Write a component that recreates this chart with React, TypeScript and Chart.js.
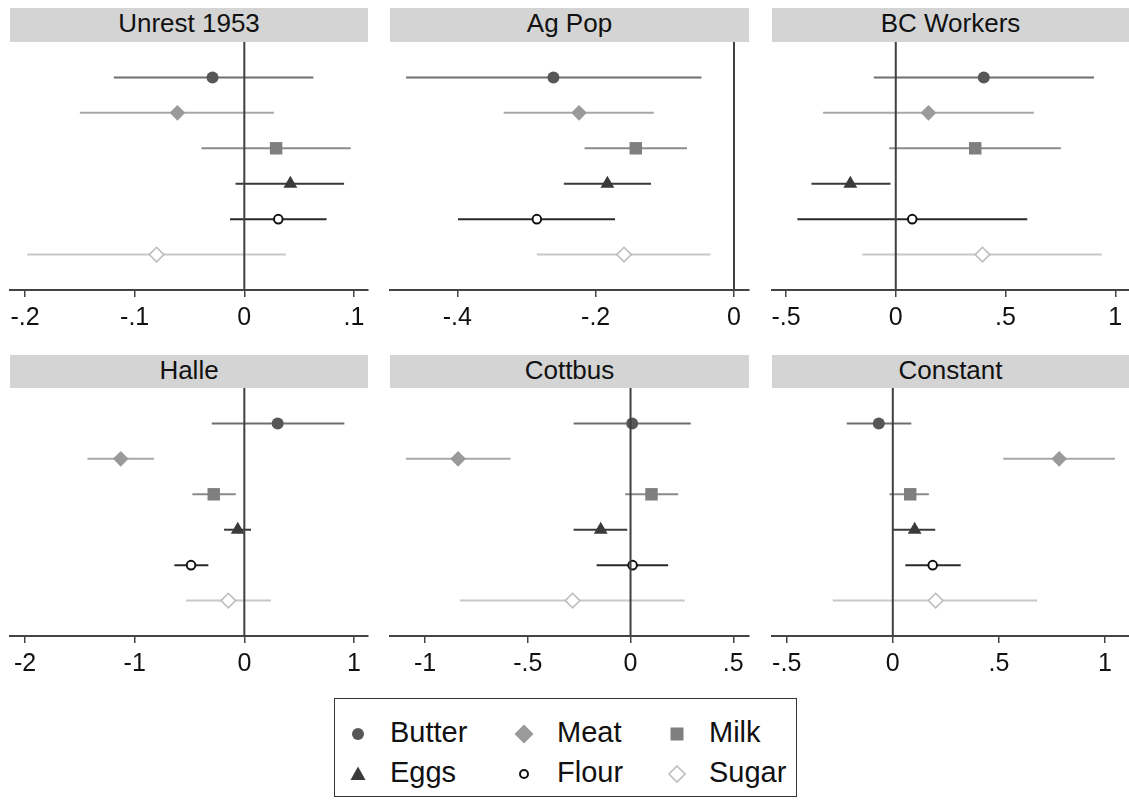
import React, { useEffect, useRef } from "react";
import { Chart, registerables } from "chart.js";

Chart.register(...registerables);

// ---------- data ----------
const foods = ["Butter", "Meat", "Milk", "Eggs", "Flour", "Sugar"];
const rowPos = [1, 2, 3, 4, 5, 6];

const unrestEst = [-0.029, -0.061, 0.029, 0.042, 0.031, -0.080];
const unrestLo = [-0.119, -0.150, -0.039, -0.008, -0.013, -0.198];
const unrestHi = [0.063, 0.027, 0.097, 0.091, 0.075, 0.038];

const agPopEst = [-0.261, -0.224, -0.142, -0.183, -0.285, -0.159];
const agPopLo = [-0.474, -0.333, -0.216, -0.246, -0.399, -0.285];
const agPopHi = [-0.047, -0.116, -0.068, -0.120, -0.172, -0.034];

const bcEst = [0.401, 0.149, 0.362, -0.207, 0.075, 0.395];
const bcLo = [-0.100, -0.331, -0.030, -0.384, -0.448, -0.152];
const bcHi = [0.903, 0.629, 0.752, -0.024, 0.599, 0.939];

const halleEst = [0.304, -1.127, -0.279, -0.060, -0.486, -0.146];
const halleLo = [-0.297, -1.431, -0.474, -0.185, -0.638, -0.531];
const halleHi = [0.912, -0.823, -0.078, 0.061, -0.328, 0.243];

const cottbusEst = [0.008, -0.839, 0.102, -0.145, 0.010, -0.282];
const cottbusLo = [-0.277, -1.093, -0.026, -0.277, -0.165, -0.830];
const cottbusHi = [0.293, -0.584, 0.232, -0.016, 0.183, 0.264];

const constantEst = [-0.066, 0.784, 0.082, 0.103, 0.188, 0.202];
const constantLo = [-0.217, 0.520, -0.016, 0.000, 0.059, -0.283];
const constantHi = [0.087, 1.047, 0.170, 0.200, 0.320, 0.680];

const unrestTicks = [-0.2, -0.1, 0, 0.1];
const agPopTicks = [-0.4, -0.2, 0];
const bcTicks = [-0.5, 0, 0.5, 1];
const halleTicks = [-2, -1, 0, 1];
const cottbusTicks = [-1, -0.5, 0, 0.5];
const constantTicks = [-0.5, 0, 0.5, 1];

const unrestRange = [-0.2137, 0.1128];
const agPopRange = [-0.4973, 0.0217];
const bcRange = [-0.5638, 1.0624];
const halleRange = [-2.1368, 1.1277];
const cottbusRange = [-1.1703, 0.5764];
const constantRange = [-0.5693, 1.1131];

// ---------- styles ----------
const FONT = '"Liberation Sans", Arial, Helvetica, sans-serif';
const markerStyles = [
  { shape: "circle", r: 6, fill: "#575757", stroke: "#575757", bw: 0, line: "#6e6e6e" },
  { shape: "rectRot", r: 7.8, fill: "#9a9a9a", stroke: "#9a9a9a", bw: 0, line: "#a8a8a8" },
  { shape: "rect", r: 8.8, fill: "#7f7f7f", stroke: "#7f7f7f", bw: 0, line: "#8a8a8a" },
  { shape: "triangle", r: 8, fill: "#3a3a3a", stroke: "#3a3a3a", bw: 0, line: "#3a3a3a" },
  { shape: "circle", r: 4.3, fill: "#ffffff", stroke: "#111111", bw: 2, line: "#2a2a2a" },
  { shape: "rectRot", r: 7.3, fill: "#ffffff", stroke: "#bdbdbd", bw: 1.6, line: "#c8c8c8" },
];

const fmt = (v: number) => {
  if (v === 0) return "0";
  return String(v).replace(/^(-?)0\./, "$1.");
};

const PAD = 22;
const AXIS_H = 50;
const PLOT_H = 248;

type PanelProps = {
  title: string;
  est: number[];
  lo: number[];
  hi: number[];
  ticks: number[];
  range: number[];
  left: number;
  width: number;
  headerTop: number;
  plotTop: number;
};

function Panel(p: PanelProps) {
  const ref = useRef<HTMLCanvasElement>(null);
  useEffect(() => {
    if (!ref.current) return;
    const ciSets = foods.map((f, i) => ({
      type: "line" as const,
      label: f + " CI",
      data: [
        { x: p.lo[i], y: rowPos[i] },
        { x: p.hi[i], y: rowPos[i] },
      ],
      showLine: true,
      borderColor: markerStyles[i].line,
      borderWidth: 2,
      pointRadius: 0,
      fill: false,
      order: 2,
    }));
    const zeroLine = {
      type: "line" as const,
      label: "zero",
      data: [
        { x: 0, y: 0 },
        { x: 0, y: 7 },
      ],
      showLine: true,
      borderColor: "#404040",
      borderWidth: 2,
      pointRadius: 0,
      fill: false,
      order: 0,
    };
    const markers = {
      type: "scatter" as const,
      label: "estimates",
      data: p.est.map((v, i) => ({ x: v, y: rowPos[i] })),
      pointStyle: markerStyles.map((s) => s.shape),
      pointRadius: markerStyles.map((s) => s.r),
      backgroundColor: markerStyles.map((s) => s.fill),
      borderColor: markerStyles.map((s) => s.stroke),
      borderWidth: markerStyles.map((s) => s.bw),
      order: 1,
    };
    const chart = new Chart(ref.current, {
      type: "scatter",
      data: { datasets: [...ciSets, zeroLine, markers] as any },
      options: {
        animation: false,
        responsive: false,
        layout: { autoPadding: false, padding: { left: PAD, right: PAD, top: 0, bottom: 0 } },
        plugins: { legend: { display: false }, tooltip: { enabled: false } },
        scales: {
          x: {
            type: "linear",
            min: p.range[0],
            max: p.range[1],
            afterBuildTicks: (s: any) => {
              s.ticks = p.ticks.map((v) => ({ value: v }));
            },
            afterFit: (s: any) => {
              s.height = AXIS_H;
            },
            ticks: {
              font: { family: FONT, size: 25 },
              color: "#111",
              padding: 6,
              maxRotation: 0,
              autoSkip: false,
              callback: (v: any) => fmt(Number(v)),
            },
            grid: {
              drawOnChartArea: false,
              drawTicks: true,
              tickLength: 7,
              color: "#444",
              lineWidth: 1.5,
            },
            border: { display: true, color: "#444", width: 2 },
          },
          y: { type: "linear", display: false, min: 0, max: 7, reverse: true },
        },
      } as any,
    });
    return () => chart.destroy();
  }, []);

  return (
    <>
      <div
        style={{
          position: "absolute",
          left: p.left,
          top: p.headerTop,
          width: p.width,
          height: p.plotTop - p.headerTop,
          background: "#d4d4d4",
          fontFamily: FONT,
          fontSize: 26,
          lineHeight: p.plotTop - p.headerTop - 3 + "px",
          textAlign: "center",
          color: "#111",
        }}
      >
        {p.title}
      </div>
      <canvas
        ref={ref}
        width={p.width + 2 * PAD}
        height={PLOT_H + AXIS_H}
        style={{
          position: "absolute",
          left: p.left - PAD,
          top: p.plotTop,
          width: p.width + 2 * PAD,
          height: PLOT_H + AXIS_H,
        }}
      />
    </>
  );
}

function LegendMarker({ i }: { i: number }) {
  const s = markerStyles[i];
  const size = 24;
  const c = size / 2;
  let shape: React.ReactNode = null;
  if (i === 0) shape = <circle cx={c} cy={c} r={6} fill={s.fill} />;
  if (i === 1)
    shape = <polygon points={`${c},${c - 9.5} ${c + 9.5},${c} ${c},${c + 9.5} ${c - 9.5},${c}`} fill={s.fill} />;
  if (i === 2) shape = <rect x={c - 6.5} y={c - 6.5} width={13} height={13} fill={s.fill} />;
  if (i === 3)
    shape = <polygon points={`${c},${c - 7.5} ${c + 7.5},${c + 6} ${c - 7.5},${c + 6}`} fill={s.fill} />;
  if (i === 4) shape = <circle cx={c} cy={c} r={4} fill="#fff" stroke={s.stroke} strokeWidth={2} />;
  if (i === 5)
    shape = (
      <polygon
        points={`${c},${c - 8} ${c + 8},${c} ${c},${c + 8} ${c - 8},${c}`}
        fill="#fff"
        stroke={s.stroke}
        strokeWidth={1.6}
      />
    );
  return (
    <svg width={size} height={size} style={{ display: "block" }}>
      {shape}
    </svg>
  );
}

function Legend() {
  const colX = [23, 189, 342];
  const textX = [55, 222, 374];
  const rowY = [35, 75];
  return (
    <div
      style={{
        position: "absolute",
        left: 334,
        top: 698,
        width: 463,
        height: 99,
        boxSizing: "border-box",
        border: "1.5px solid #333",
        background: "#fff",
      }}
    >
      {foods.map((f, i) => {
        const col = i % 3;
        const row = Math.floor(i / 3);
        return (
          <React.Fragment key={f}>
            <div style={{ position: "absolute", left: colX[col] - 12, top: rowY[row] - 12 }}>
              <LegendMarker i={i} />
            </div>
            <div
              style={{
                position: "absolute",
                left: textX[col],
                top: rowY[row] - 16,
                fontFamily: FONT,
                fontSize: 29,
                lineHeight: "29px",
                color: "#111",
                whiteSpace: "nowrap",
              }}
            >
              {f}
            </div>
          </React.Fragment>
        );
      })}
    </div>
  );
}

export default function App() {
  const cols = [
    { left: 10, width: 358 },
    { left: 390, width: 359 },
    { left: 772, width: 357 },
  ];
  const rows = [
    { headerTop: 8, plotTop: 42 },
    { headerTop: 355, plotTop: 388 },
  ];
  const panels = [
    { title: "Unrest 1953", est: unrestEst, lo: unrestLo, hi: unrestHi, ticks: unrestTicks, range: unrestRange },
    { title: "Ag Pop", est: agPopEst, lo: agPopLo, hi: agPopHi, ticks: agPopTicks, range: agPopRange },
    { title: "BC Workers", est: bcEst, lo: bcLo, hi: bcHi, ticks: bcTicks, range: bcRange },
    { title: "Halle", est: halleEst, lo: halleLo, hi: halleHi, ticks: halleTicks, range: halleRange },
    { title: "Cottbus", est: cottbusEst, lo: cottbusLo, hi: cottbusHi, ticks: cottbusTicks, range: cottbusRange },
    { title: "Constant", est: constantEst, lo: constantLo, hi: constantHi, ticks: constantTicks, range: constantRange },
  ];
  return (
    <div
      style={{
        position: "fixed",
        left: 0,
        top: 0,
        width: 1129,
        height: 801,
        overflow: "hidden",
        background: "#fff",
      }}
    >
      {panels.map((pp, k) => (
        <Panel
          key={pp.title}
          {...pp}
          left={cols[k % 3].left}
          width={cols[k % 3].width}
          headerTop={rows[Math.floor(k / 3)].headerTop}
          plotTop={rows[Math.floor(k / 3)].plotTop}
        />
      ))}
      <Legend />
    </div>
  );
}
